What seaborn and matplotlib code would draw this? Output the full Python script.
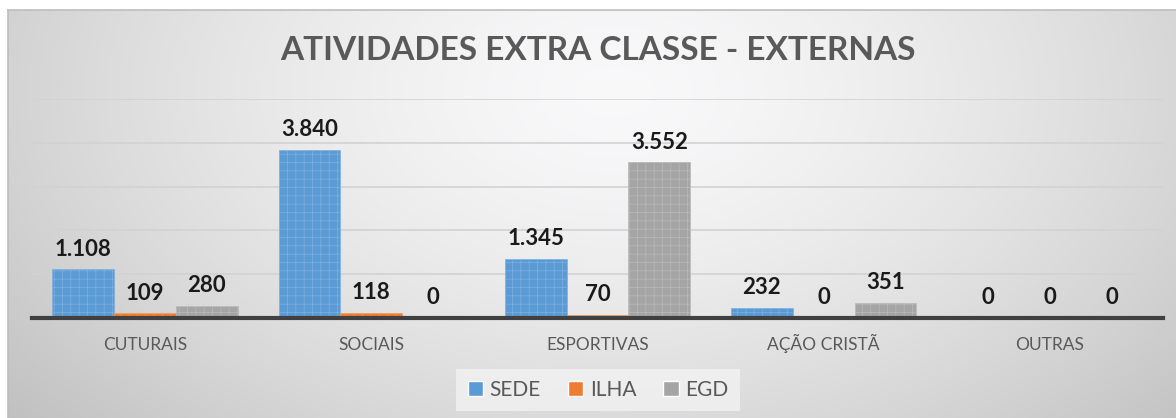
import numpy as np
import pandas as pd
import matplotlib
matplotlib.use("Agg")
import matplotlib.pyplot as plt
import seaborn as sns

categories = ["CUTURAIS", "SOCIAIS", "ESPORTIVAS", "AÇÃO CRISTÃ", "OUTRAS"]
series = ["SEDE", "ILHA", "EGD"]
sede = [1108, 3840, 1345, 232, 0]
ilha = [109, 118, 70, 0, 0]
egd = [280, 0, 3552, 351, 0]
colors = ["#5B9BD5", "#ED7D31", "#A5A5A5"]
title = "ATIVIDADES EXTRA CLASSE - EXTERNAS"

sns.set_theme(style="white")
plt.rcParams["font.family"] = ["Lato", "DejaVu Sans"]
plt.rcParams["hatch.linewidth"] = 0.5

rows = []
for s, vals in zip(series, [sede, ilha, egd]):
    for c, v in zip(categories, vals):
        rows.append({"cat": c, "serie": s, "val": v})
df = pd.DataFrame(rows)

W, H = 1176, 418
fig = plt.figure(figsize=(W / 100, H / 100), dpi=100)
fig.patch.set_facecolor("white")

# background gradient panel
bg = fig.add_axes([8 / W, 0, 1 - 8 / W, 1 - 10 / H])
yy, xx = np.mgrid[0:1:200j, 0:1:400j]
d = np.sqrt(((xx - 0.52) / 0.72) ** 2 + ((yy - 0.2) / 1.3) ** 2)
val = 0.98 - 0.24 * np.clip(d, 0, 1.2) ** 1.5
img = np.dstack([val * 0.995, val * 0.995, val * 1.0])
bg.imshow(np.clip(img, 0, 1), aspect="auto", extent=[0, 1, 1, 0])
bg.set_xlim(0, 1)
bg.set_ylim(1, 0)
bg.set_xticks([])
bg.set_yticks([])
for side in ["right", "bottom"]:
    bg.spines[side].set_visible(False)
for side in ["top", "left"]:
    bg.spines[side].set_color("#bdbdbd")
    bg.spines[side].set_linewidth(1.2)

ax = fig.add_axes([32 / W, 1 - 318 / H, (1163 - 32) / W, (318 - 99) / H])
ax.patch.set_alpha(0)
sns.barplot(data=df, x="cat", y="val", hue="serie", palette=colors,
            width=0.82, gap=0, ax=ax, saturation=1, zorder=3)

light = {"#5B9BD5": "#7fb0df", "#ED7D31": "#f29a5e", "#A5A5A5": "#bababa"}
for cont, col in zip(ax.containers, colors):
    for p in cont:
        p.set_hatch("++")
        p.set_edgecolor(light[col])
        p.set_linewidth(0.5)
    labels = [f"{int(v.get_height()):,}".replace(",", ".") for v in cont]
    ax.bar_label(cont, labels=labels, padding=7, fontsize=16,
                 fontweight="bold", color="#1a1a1a")

ax.set_ylim(0, 5000)
ax.set_xlim(-0.5, len(categories) - 0.5)
ax.set_yticks([1000, 2000, 3000, 4000, 5000])
ax.set_yticklabels([])
ax.yaxis.grid(True, color="#d2d2d2", linewidth=1.2, zorder=0)
ax.tick_params(axis="y", length=0)
ax.tick_params(axis="x", length=0, pad=23, labelsize=12.5, labelcolor="#595959")
for t in ax.get_xticklabels():
    t.set_verticalalignment("baseline")
ax.set_xlabel("")
ax.set_ylabel("")
for side in ["top", "right", "left"]:
    ax.spines[side].set_visible(False)
ax.spines["bottom"].set_color("#404040")
ax.spines["bottom"].set_linewidth(3)
ax.spines["bottom"].set_zorder(5)

fig.text(598 / W, 1 - 50 / H, title, ha="center", va="center",
         fontsize=24, fontweight="bold", color="#595959")

handles, lbls = ax.get_legend_handles_labels()
leg = ax.legend(handles, lbls, loc="center", bbox_to_anchor=(598 / W, 1 - 390 / H),
                bbox_transform=fig.transFigure, ncol=3, fontsize=15,
                handlelength=0.75, handleheight=0.75, handletextpad=0.3,
                columnspacing=1.3, frameon=True, fancybox=False,
                facecolor="#f2f2f2", edgecolor="none", labelcolor="#595959",
                borderpad=0.55)

fig.savefig("out.png", dpi=100)
